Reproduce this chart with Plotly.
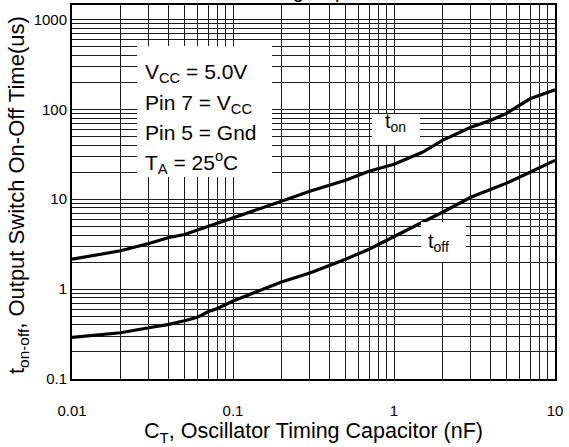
import plotly.graph_objects as go

# ---- data ----
cap_nF = [0.01, 0.02, 0.03, 0.04, 0.05, 0.06, 0.07, 0.08, 0.1, 0.2, 0.3, 0.5,
          0.7, 1, 1.5, 2, 3, 4, 5, 7, 10]
t_on_us = [2.15, 2.67, 3.22, 3.75, 4.05, 4.52, 5.01, 5.37, 6.15, 9.5, 12.3, 16.3,
           20.5, 24.5, 33.3, 45.2, 63.1, 75.5, 90.3, 131, 165]
t_off_us = [0.291, 0.327, 0.372, 0.405, 0.444, 0.485, 0.560, 0.610, 0.736, 1.20,
            1.51, 2.15, 2.78, 3.88, 5.55, 7.17, 10.5, 12.9, 15.1, 20.0, 27.1]

x_tick_vals = [0.01, 0.1, 1, 10]
x_tick_text = ["0.01", "0.1", "1", "10"]
y_tick_vals = [0.1, 1, 10, 100, 1000]
y_tick_text = ["0.1", "1", "10", "100", "1000"]

FONT = "Arial, Liberation Sans, sans-serif"

def minor_vals(decades):
    vals = []
    for d in decades:
        for m in range(2, 10):
            vals.append(round(m * d, 6))
    return vals

x_minor = minor_vals([0.01, 0.1, 1])
y_minor = minor_vals([0.1, 1, 10, 100])

fig = go.Figure()

W, H = 569, 447
L, R, T, B = 72, 14, 5, 68
pw, ph = W - L - R, H - T - B

def px(xp):
    return (xp - L) / pw

def py(yp):
    return (H - B - yp) / ph

# white boxes covering the grid behind the labels
boxes = [(137, 272, 46, 177), (372, 420, 114, 145), (421, 466, 222, 262)]
for x0, x1, y0, y1 in boxes:
    fig.add_shape(type="rect", xref="paper", yref="paper",
                  x0=px(x0), x1=px(x1), y0=py(y1), y1=py(y0),
                  fillcolor="white", line=dict(width=0), layer="above")

fig.add_trace(go.Scatter(x=cap_nF, y=t_on_us, mode="lines",
                         line=dict(color="black", width=3.2), showlegend=False))
fig.add_trace(go.Scatter(x=cap_nF, y=t_off_us, mode="lines",
                         line=dict(color="black", width=3.2), showlegend=False))

ann = []
rows = [("V<sub>CC</sub> = 5.0V", 73), ("Pin 7 = V<sub>CC</sub>", 104),
        ("Pin 5 = Gnd", 132.5), ("T<sub>A</sub> = 25<sup>o</sup>C", 162.5)]
for txt, yy in rows:
    ann.append(dict(text=txt, xref="paper", yref="paper", x=px(143), y=py(yy),
                    xanchor="left", yanchor="middle", showarrow=False,
                    font=dict(size=21, color="black", family=FONT)))
ann.append(dict(text="t<sub>on</sub>", xref="paper", yref="paper", x=px(383), y=py(122),
                xanchor="left", yanchor="middle", showarrow=False,
                font=dict(size=20, color="black", family=FONT)))
ann.append(dict(text="t<sub>off</sub>", xref="paper", yref="paper", x=px(426), y=py(242),
                xanchor="left", yanchor="middle", showarrow=False,
                font=dict(size=20, color="black", family=FONT)))
ann.append(dict(text="C<sub>T</sub>, Oscillator Timing Capacitor (nF)", xref="paper",
                yref="paper", x=px(313), y=py(433), xanchor="center", yanchor="middle",
                showarrow=False, font=dict(size=21.5, color="black", family=FONT)))
ann.append(dict(text="t<sub>on-off</sub>, Output Switch On-Off Time(us)", xref="paper",
                yref="paper", x=px(18), y=py(195), xanchor="center", yanchor="middle",
                textangle=-90, showarrow=False,
                font=dict(size=22, color="black", family=FONT)))
ann.append(dict(text="Oscillator Timing Capacitor", xref="paper", yref="paper",
                x=px(275), y=py(-9), xanchor="center", yanchor="middle",
                showarrow=False, font=dict(size=20, color="black", family=FONT)))
fig.update_layout(annotations=ann)

axis_common = dict(type="log", showgrid=True, gridcolor="#1a1a1a", gridwidth=1.4,
                   zeroline=False, showline=True, linecolor="black", linewidth=2,
                   mirror=True, ticks="",
                   tickfont=dict(size=15, color="black", family=FONT))
fig.update_xaxes(**axis_common, range=[-2, 1], tickmode="array", tickvals=x_tick_vals,
                 ticktext=x_tick_text, ticklabelstandoff=17,
                 minor=dict(tickmode="array", tickvals=x_minor, showgrid=True,
                            gridcolor="#1a1a1a", gridwidth=1.4, ticks=""))
fig.update_yaxes(**axis_common, range=[-1, 3.161], tickmode="array", tickvals=y_tick_vals,
                 ticktext=y_tick_text,
                 minor=dict(tickmode="array", tickvals=y_minor, showgrid=True,
                            gridcolor="#1a1a1a", gridwidth=1.4, ticks=""))

fig.update_layout(width=W, height=H, margin=dict(l=L, r=R, t=T, b=B, autoexpand=False),
                  paper_bgcolor="white", plot_bgcolor="white",
                  font=dict(family=FONT, color="black"))

fig.write_html("out.html", config={"displayModeBar": False},
               post_script="document.body.style.margin='0';")
